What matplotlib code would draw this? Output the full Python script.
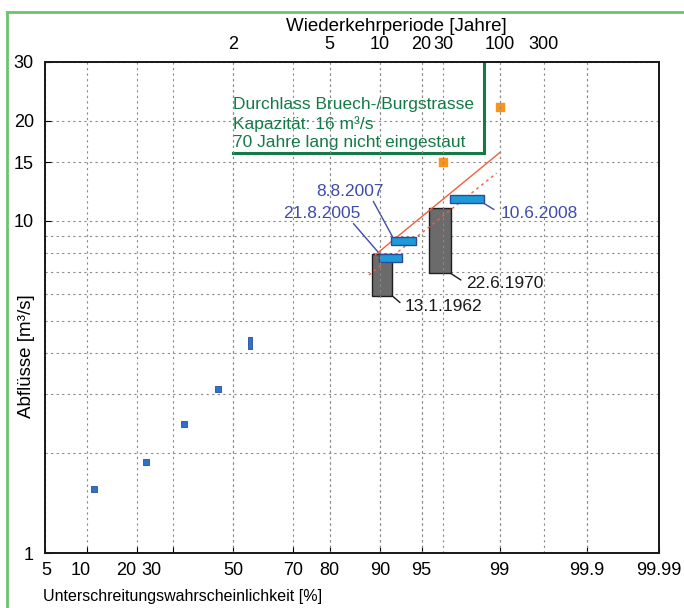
from statistics import NormalDist
import numpy as np
import matplotlib
matplotlib.use("Agg")
import matplotlib.pyplot as plt
from matplotlib.lines import Line2D
from matplotlib.ticker import FixedLocator, NullFormatter, NullLocator
from matplotlib.transforms import ScaledTranslation

plt.rcParams["font.family"] = ["Liberation Sans", "DejaVu Sans"]

# --- data ---
prob_ticks = [0.05, 0.1, 0.2, 0.3, 0.5, 0.7, 0.8, 0.9, 0.95, 0.99, 0.999, 0.9999]
prob_labels = ["5", "10", "20", "30", "50", "70", "80", "90", "95", "99", "99.9", "99.99"]
# the original sets some bottom labels a little off their ticks (pixels)
prob_label_shift = [1, -6, -11, -22, 0, 0, 0, 0, 0, 0, 0, 0]
return_periods = [2, 5, 10, 20, 30, 100, 300]
extra_grid_T = [1000]
q_ticks = [1, 10, 15, 20, 30]
q_minor = [2, 3, 4, 5, 6, 7, 8, 9]

# small observed annual peaks
obs_p = [0.1124, 0.2228, 0.334, 0.4455]
obs_q = [1.56, 1.88, 2.45, 3.11]
# one observed peak given as a range
obs_range_p = (0.550, 0.564)
obs_range_q = (4.10, 4.48)

# historic events (grey boxes): p range, Q range
hist_names = ["13.1.1962", "22.6.1970"]
hist_p = [(0.888, 0.9174), (0.9563, 0.9712)]
hist_q = [(5.94, 7.92), (6.94, 10.94)]

# recent events (blue boxes)
recent_names = ["21.8.2005", "8.8.2007", "10.6.2008"]
recent_p = [(0.8988, 0.9292), (0.9157, 0.9447), (0.9708, 0.9857)]
recent_q = [(7.49, 7.92), (8.43, 8.93), (11.27, 11.92)]

# design values (orange)
design_p = [0.9667, 0.99]
design_q = [15.0, 22.0]

# fitted lines
fit_p = [0.893, 0.99]
fit_q = [7.9, 16.0]
fit2_p = [0.882, 0.9893]
fit2_q = [6.86, 13.9]

capacity = 16.0
capacity_T = 70

nd = NormalDist()


def _fwd(p):
    p = np.clip(np.asarray(p, dtype=float), 1e-12, 1 - 1e-12)
    return np.vectorize(nd.inv_cdf, otypes=[float])(p)


def _inv(z):
    z = np.asarray(z, dtype=float)
    return np.vectorize(nd.cdf, otypes=[float])(z)


GREEN = "#137a47"
BLUE_TXT = "#3f4caa"
BOX_BLUE = "#1d9bd8"
BOX_EDGE = "#2d4a9c"
RED = "#f0603f"
ORANGE = "#f7941d"
GRID = "#8a8a8a"

fig = plt.figure(figsize=(6.84, 6.08), dpi=100)
ax = fig.add_axes([45 / 684, 1 - 553 / 608, 614 / 684, 491 / 608])
ax.set_xscale("function", functions=(_fwd, _inv))
ax.set_yscale("log")
ax.set_xlim(0.05, 0.9999)
ax.set_ylim(1, 30)

# ticks / grid
ax.xaxis.set_major_locator(FixedLocator(prob_ticks))
ax.xaxis.set_minor_locator(NullLocator())
ax.set_xticklabels([])
ax.yaxis.set_major_locator(FixedLocator(q_ticks))
ax.yaxis.set_minor_locator(FixedLocator(q_minor))
ax.set_yticklabels([str(v) for v in q_ticks])
ax.yaxis.set_minor_formatter(NullFormatter())
ax.tick_params(axis="both", which="major", direction="in", length=4, width=0.8,
               labelsize=13, pad=8)
ax.tick_params(axis="y", which="minor", length=0)
ax.grid(True, axis="both", which="both", color=GRID, linestyle=(0, (2, 3)), linewidth=0.8)

for p, lab, dx in zip(prob_ticks, prob_labels, prob_label_shift):
    tr = ax.get_xaxis_transform() + ScaledTranslation(dx / 100, -0.09, fig.dpi_scale_trans)
    ax.text(p, 0, lab, transform=tr, ha="center", va="top", fontsize=13)

ax2 = ax.twiny()
ax2.set_xscale("function", functions=(_fwd, _inv))
ax2.set_xlim(ax.get_xlim())
top_p = [1 - 1 / t for t in return_periods]
ax2.xaxis.set_major_locator(FixedLocator(top_p))
ax2.xaxis.set_minor_locator(FixedLocator([1 - 1 / t for t in extra_grid_T]))
ax2.set_xticklabels([str(t) for t in return_periods])
ax2.xaxis.set_minor_formatter(NullFormatter())
ax2.tick_params(axis="x", which="both", length=0, labelsize=13, pad=6.5)
ax2.grid(True, axis="x", which="both", color=GRID, linestyle=(0, (2, 3)), linewidth=0.8)

for a in (ax, ax2):
    for s in a.spines.values():
        s.set_linewidth(1.3)
        s.set_color("#1a1a1a")

# labels
ax.set_ylabel("Abflüsse [m³/s]", fontsize=13.5)
ax.yaxis.set_label_coords(-0.016, 0.40)
ax.set_xlabel("Unterschreitungswahrscheinlichkeit [%]", fontsize=11.5)
ax.xaxis.set_label_coords(0.2235, -0.074)
ax2.set_xlabel("Wiederkehrperiode [Jahre]", fontsize=13.5)
ax2.xaxis.set_label_coords(0.5725, 1.063)

# observed peaks
ax.scatter(obs_p, obs_q, marker="s", s=14, facecolor="#2c74c9", edgecolor=BOX_EDGE,
           linewidth=0.6, zorder=4)
ax.bar(obs_range_p[0], obs_range_q[1] - obs_range_q[0], width=obs_range_p[1] - obs_range_p[0],
       bottom=obs_range_q[0], align="edge", color="#2c74c9", edgecolor=BOX_EDGE,
       linewidth=0.6, zorder=4)

# historic events
for (p0, p1), (q0, q1) in zip(hist_p, hist_q):
    ax.bar(p0, q1 - q0, width=p1 - p0, bottom=q0, align="edge", color="#6b6b6b",
           edgecolor="#1f1f1f", linewidth=1.0, zorder=3)

# fit lines
ax.plot(fit_p, fit_q, color=RED, linewidth=1.0, zorder=5)
ax.plot(fit2_p, fit2_q, color=RED, linewidth=1.0, linestyle=(0, (2, 2.5)), zorder=5)

# recent events
for (p0, p1), (q0, q1) in zip(recent_p, recent_q):
    ax.bar(p0, q1 - q0, width=p1 - p0, bottom=q0, align="edge", color=BOX_BLUE,
           edgecolor=BOX_EDGE, linewidth=1.0, zorder=6)

# design values
ax.scatter(design_p, design_q, marker="s", s=30, color=ORANGE, zorder=6)

# event labels
lab_kw = dict(fontsize=12.5, va="center", ha="center", textcoords="offset points")
ax.annotate(recent_names[0], xy=(0.90, recent_q[0][1]), xytext=(-42, 29.5), color=BLUE_TXT,
            arrowprops=dict(arrowstyle="-", color=BLUE_TXT, lw=1.0, shrinkA=0, shrinkB=0,
                            relpos=(0.88, 0.0)), **lab_kw)
ax.annotate(recent_names[1], xy=(0.918, recent_q[1][1]), xytext=(-31, 33), color=BLUE_TXT,
            arrowprops=dict(arrowstyle="-", color=BLUE_TXT, lw=1.0, shrinkA=0, shrinkB=0,
                            relpos=(0.83, 0.0)), **lab_kw)
ax.annotate(recent_names[2], xy=(recent_p[2][1], recent_q[2][0]), xytext=(39.6, -7.2),
            color=BLUE_TXT,
            arrowprops=dict(arrowstyle="-", color=BLUE_TXT, lw=1.0, shrinkA=3, shrinkB=0,
                            relpos=(0.0, 0.5)), **lab_kw)
ax.annotate(hist_names[0], xy=(hist_p[0][1], hist_q[0][0]), xytext=(37.1, -7.9), color="#1a1a1a",
            arrowprops=dict(arrowstyle="-", color="#1a1a1a", lw=1.0, shrinkA=2, shrinkB=0,
                            relpos=(0.0, 0.5)), **lab_kw)
ax.annotate(hist_names[1], xy=(hist_p[1][1], hist_q[1][0]), xytext=(38.9, -7.2), color="#1a1a1a",
            arrowprops=dict(arrowstyle="-", color="#1a1a1a", lw=1.0, shrinkA=2, shrinkB=0,
                            relpos=(0.0, 0.5)), **lab_kw)

# capacity marker (green)
p_cap = 1 - 1 / capacity_T
ax.plot([0.5, p_cap, p_cap], [capacity, capacity, 29.6], color=GREEN, linewidth=2.2,
        solid_joinstyle="miter", zorder=7)
ax.annotate("Durchlass Bruech-/Burgstrasse\nKapazität: 16 m³/s\n70 Jahre lang nicht eingestaut",
            xy=(0.5, capacity), xytext=(0, 2.0), textcoords="offset points", ha="left",
            va="bottom", fontsize=12.5, color=GREEN, linespacing=1.28, zorder=7)

# outer green frame
fig.add_artist(Line2D([7 / 684, 7 / 684], [0, 1 - 12 / 608], transform=fig.transFigure,
                      color="#6cc56c", linewidth=2))
fig.add_artist(Line2D([7 / 684, 1], [1 - 12 / 608, 1 - 12 / 608], transform=fig.transFigure,
                      color="#6cc56c", linewidth=2))

fig.savefig("out.png", dpi=100)
